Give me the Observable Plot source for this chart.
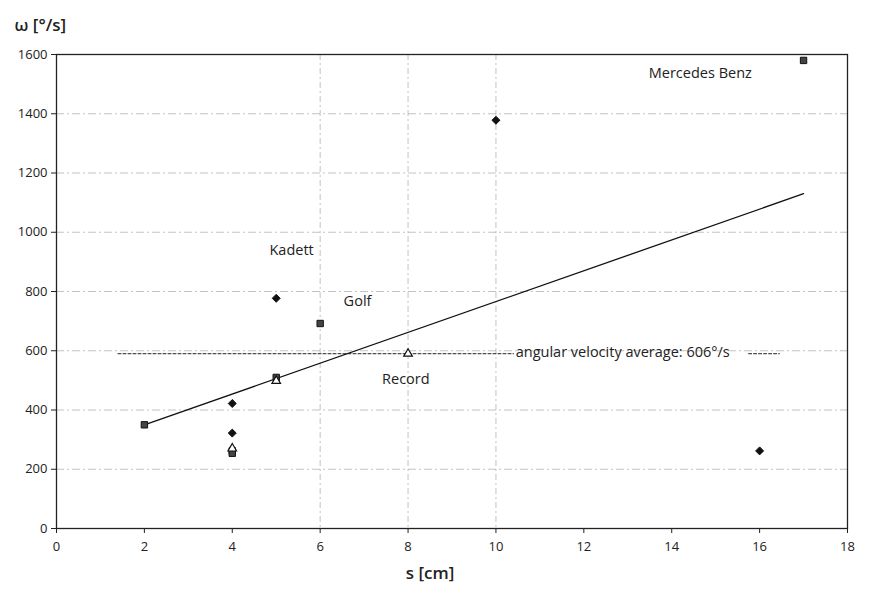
<!DOCTYPE html>
<html>
<head>
<meta charset="utf-8">
<script src="https://cdn.jsdelivr.net/npm/d3@7"></script>
<script src="https://cdn.jsdelivr.net/npm/@observablehq/plot@0.6"></script>
<style>
  html, body { margin: 0; padding: 0; background: #fff; }
  #chart svg { display: block; }
</style>
</head>
<body>
<div id="chart"></div>
<script>
// --- data ---
const sValues = [2, 4, 4, 4, 4, 4, 5, 5, 5, 6, 8, 10, 16, 17];
const omegaValues = [350, 422, 322, 270, 262, 254, 777, 510, 498, 692, 590, 1378, 262, 1580];
const markerKinds = ["square", "diamond", "diamond", "triangle", "square", "square", "diamond", "square", "triangle", "square", "triangle", "diamond", "diamond", "square"];

const trendS = [2, 17];
const trendOmega = [350, 1130];

const avgS = [1.4, 10.4];
const avgOmega = [590, 590];
const avgKeyS = [15.75, 16.45];
const avgLabel = "angular velocity average: 606°/s";
const avgLabelS = 10.45;

const carNames = ["Mercedes Benz", "Kadett", "Golf", "Record"];
const carS = [14.65, 5.35, 6.85, 7.95];
const carOmega = [1538, 940, 768, 505];

const xTicks = [0, 2, 4, 6, 8, 10, 12, 14, 16, 18];
const yTicks = [0, 200, 400, 600, 800, 1000, 1200, 1400, 1600];
const gridY = [200, 400, 600, 800, 1000, 1200, 1400];
const gridX = [6, 8, 10];

const points = sValues.map((s, i) => ({s, w: omegaValues[i], kind: markerKinds[i]}));
const trend = trendS.map((s, i) => ({s, w: trendOmega[i]}));
const avg = avgS.map((s, i) => ({s, w: avgOmega[i]}));
const avgKey = avgKeyS.map(s => ({s, w: avgOmega[0]}));
const labels = carNames.map((n, i) => ({n, s: carS[i], w: carOmega[i]}));

const font = "'Open Sans', 'DejaVu Sans', sans-serif";

const chart = Plot.plot({
  width: 869,
  height: 596,
  marginLeft: 56,
  marginRight: 22,
  marginTop: 54,
  marginBottom: 68,
  style: {fontFamily: font, fontSize: "13px", color: "#222", background: "#fff"},
  x: {domain: [0, 18], ticks: xTicks},
  y: {domain: [0, 1600], ticks: yTicks},
  marks: [
    Plot.ruleY(gridY, {stroke: "#aaa", strokeWidth: 1, strokeDasharray: "8,3,2,3", strokeOpacity: 0.7}),
    Plot.ruleX(gridX, {stroke: "#aaa", strokeWidth: 1, strokeDasharray: "6,3,2,3", strokeOpacity: 0.7}),
    Plot.frame({stroke: "#222", strokeWidth: 1.3}),
    Plot.axisX({ticks: xTicks, tickSize: 5, tickPadding: 8, tickFormat: "d", label: null, fontSize: 13}),
    Plot.axisY({ticks: yTicks, tickSize: 5, tickPadding: 4, tickFormat: "d", label: null, fontSize: 13}),
    Plot.line(avg, {x: "s", y: "w", stroke: "#222", strokeWidth: 1, strokeDasharray: "3,2"}),
    Plot.line(avgKey, {x: "s", y: "w", stroke: "#222", strokeWidth: 1, strokeDasharray: "3,2"}),
    Plot.text([avgLabel], {x: avgLabelS, y: avgOmega[0] + 4, text: d => d, textAnchor: "start", fontSize: 14.5, fill: "#222"}),
    Plot.line(trend, {x: "s", y: "w", stroke: "#111", strokeWidth: 1.3}),
    Plot.dot(points.filter(d => d.kind === "diamond"), {x: "s", y: "w", symbol: "diamond2", r: 3.6, fill: "#111", stroke: "#111", strokeWidth: 1}),
    Plot.dot(points.filter(d => d.kind === "square"), {x: "s", y: "w", symbol: "square", r: 3.6, fill: "#444", stroke: "#111", strokeWidth: 1}),
    Plot.dot(points.filter(d => d.kind === "triangle"), {x: "s", y: "w", symbol: "triangle", r: 3.2, fill: "#fff", stroke: "#111", strokeWidth: 1.2}),
    Plot.text(labels, {x: "s", y: "w", text: "n", fontSize: 14.5, fill: "#222"}),
    Plot.text(["ω [°/s]"], {frameAnchor: "top-left", text: d => d, dx: -42, dy: -36, textAnchor: "start", fontSize: 17, fontWeight: 600, fill: "#222"}),
    Plot.text(["s [cm]"], {x: 8.5, frameAnchor: "bottom", text: d => d, dy: 50, fontSize: 17, fontWeight: 600, fill: "#222"})
  ]
});

document.getElementById("chart").appendChild(chart);
</script>
</body>
</html>
